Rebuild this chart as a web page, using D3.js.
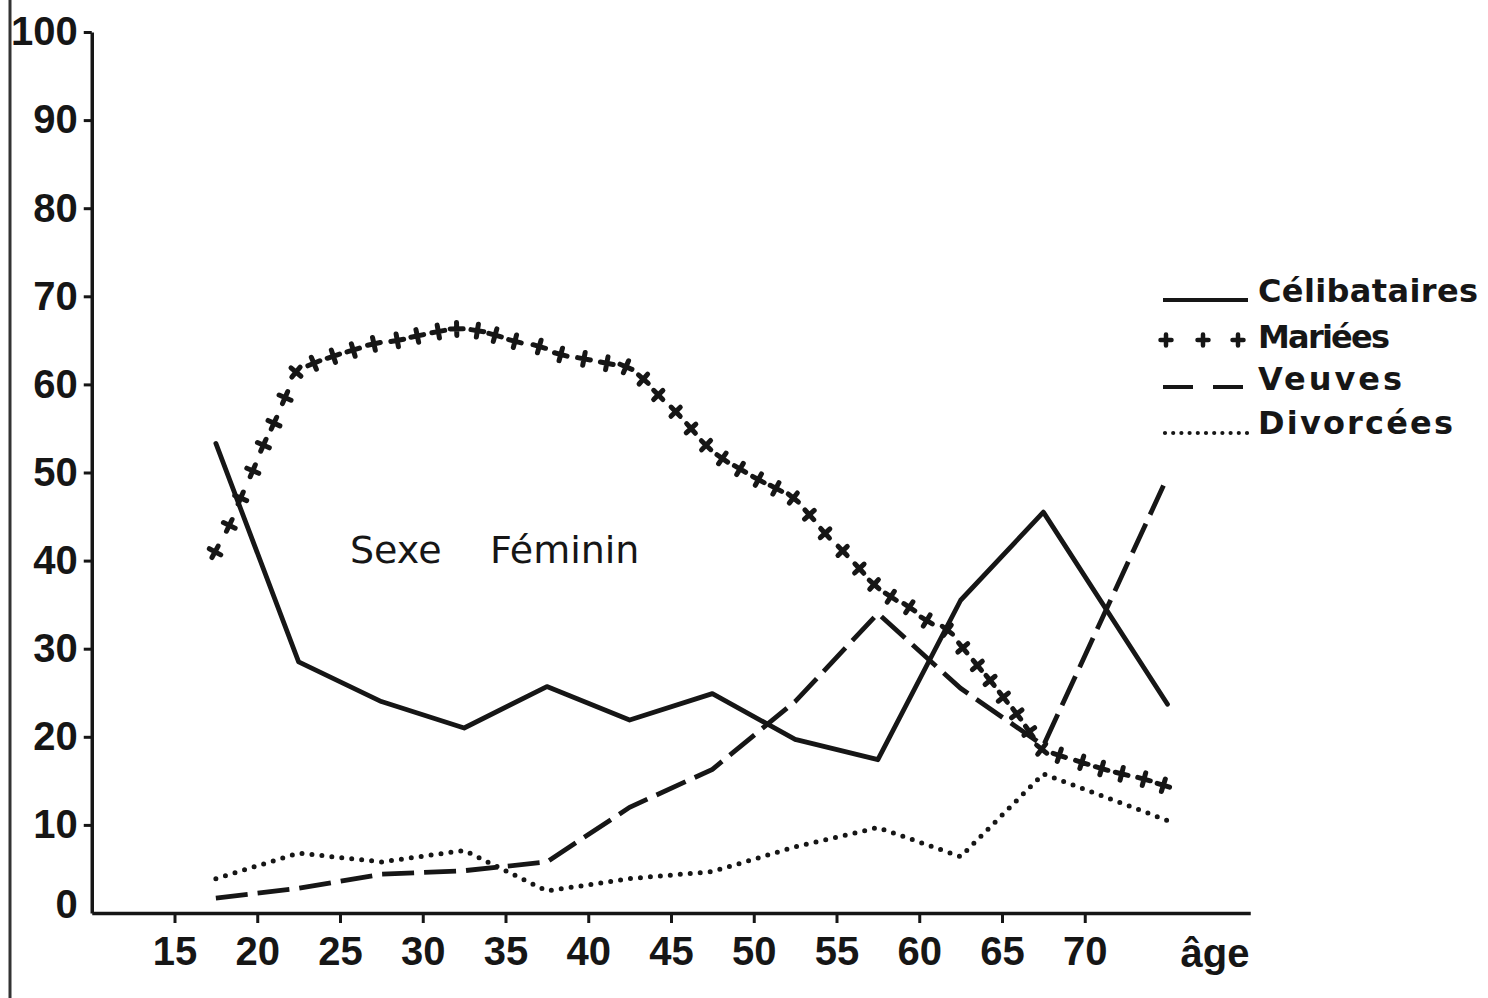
<!DOCTYPE html>
<html>
<head>
<meta charset="utf-8">
<script src="https://cdn.jsdelivr.net/npm/d3@7"></script>
<style>
  html, body { margin: 0; padding: 0; background: #fff; }
  svg { display: block; }
</style>
</head>
<body>
<svg id="chart" width="1488" height="998"></svg>
<script>
// ---------------- DATA ----------------
const ageGroups   = [17.5, 22.5, 27.5, 32.5, 37.5, 42.5, 47.5, 52.5, 57.5, 62.5, 67.5, 75];
const celibataires = [53.3, 28.5, 24.0, 21.0, 25.7, 21.9, 24.9, 19.7, 17.4, 35.5, 45.5, 23.7];
const veuves       = [1.7, 2.8, 4.4, 4.8, 5.8, 12.0, 16.3, 24.0, 34.0, 25.5, 19.0, 49.5];
const divorcees    = [3.9, 6.8, 5.8, 7.1, 2.5, 3.9, 4.7, 7.5, 9.7, 6.4, 15.8, 10.5];

// Mariées: marker positions (age, %)
const marieesAges = [17.45, 18.31, 19.0, 19.73, 20.37, 21.01, 21.68, 22.34, 23.42, 24.6,
  25.8, 27.05, 28.46, 29.67, 30.94, 32.05, 33.3, 34.37, 35.57, 37.04,
  38.34, 39.74, 41.12, 42.28, 43.33, 44.23, 45.28, 46.21, 47.12, 48.1,
  49.17, 50.28, 51.34, 52.39, 53.36, 54.31, 55.37, 56.38, 57.27, 58.28,
  59.4, 60.45, 61.7, 62.63, 63.51, 64.28, 65.08, 65.89, 66.65, 67.4,
  68.46, 69.82, 71.02, 72.23, 73.58, 74.75];
const marieesValues = [41.0, 44.0, 47.1, 50.2, 53.1, 55.6, 58.5, 61.4, 62.4, 63.2,
  63.9, 64.6, 65.0, 65.5, 66.0, 66.3, 66.1, 65.6, 64.9, 64.3,
  63.4, 62.9, 62.4, 62.0, 60.6, 58.8, 56.9, 55.0, 53.1, 51.6,
  50.4, 49.2, 48.2, 47.1, 45.2, 43.1, 41.1, 39.1, 37.3, 35.9,
  34.7, 33.2, 32.1, 30.1, 28.1, 26.4, 24.5, 22.6, 20.6, 18.6,
  17.9, 17.1, 16.4, 15.8, 15.2, 14.5];

const yTicks = [0, 10, 20, 30, 40, 50, 60, 70, 80, 90, 100];
const xTicks = [15, 20, 25, 30, 35, 40, 45, 50, 55, 60, 65, 70];
const xAxisTitle = "âge";
const annotation = ["Sexe", "Féminin"];
const legendLabels = ["Célibataires", "Mariées", "Veuves", "Divorcées"];

// ---------------- CHART ----------------
const ink = "#161616";
const svg = d3.select("#chart");

const x = d3.scaleLinear().domain([10, 80]).range([91.75, 1250.25]);
const y = d3.scaleLinear().domain([0, 100]).range([913, 32]);

const tickFont = "'Liberation Sans', Arial, sans-serif";
const textFont = "'DejaVu Sans', 'Noto Sans', sans-serif";

// scan edge on the left
svg.append("line")
  .attr("x1", 10).attr("x2", 10).attr("y1", 0).attr("y2", 998)
  .attr("stroke", "#333").attr("stroke-width", 3);

// axes
const yAxis = svg.append("g")
  .attr("transform", `translate(${x(10)},0)`)
  .call(d3.axisLeft(y).tickValues(yTicks).tickSize(8).tickPadding(6).tickSizeOuter(0));
const xAxis = svg.append("g")
  .attr("transform", `translate(0,${y(0)})`)
  .call(d3.axisBottom(x).tickValues(xTicks).tickSize(10).tickPadding(14).tickSizeOuter(0));

[yAxis, xAxis].forEach(g => {
  g.select(".domain").attr("stroke", ink).attr("stroke-width", 3.5);
  g.selectAll(".tick line").attr("stroke", ink).attr("stroke-width", 3);
  g.selectAll(".tick text")
    .attr("fill", ink)
    .style("font-family", tickFont)
    .style("font-weight", "bold")
    .style("font-size", "40px");
});
yAxis.selectAll(".tick").filter(d => d === 0).select("line").remove();
yAxis.selectAll(".tick").filter(d => d === 0).select("text").attr("dy", "0.1em");

svg.append("text")
  .attr("x", 1215).attr("y", 967)
  .attr("text-anchor", "middle")
  .attr("fill", ink)
  .style("font-family", tickFont)
  .style("font-weight", "bold")
  .style("font-size", "40px")
  .text(xAxisTitle);

// lines
const line = d3.line().x(d => x(d[0])).y(d => y(d[1]));
const zip = (a, b) => a.map((v, i) => [v, b[i]]);

svg.append("path")
  .attr("d", line(zip(ageGroups, celibataires)))
  .attr("fill", "none").attr("stroke", ink).attr("stroke-width", 4.8)
  .attr("stroke-linejoin", "round").attr("stroke-linecap", "round");

svg.append("path")
  .attr("d", line(zip(ageGroups, veuves)))
  .attr("fill", "none").attr("stroke", ink).attr("stroke-width", 4.8)
  .attr("stroke-dasharray", "32 10");

svg.append("path")
  .attr("d", line(zip(ageGroups, divorcees)))
  .attr("fill", "none").attr("stroke", ink).attr("stroke-width", 5)
  .attr("stroke-linecap", "round")
  .attr("stroke-dasharray", "0 10");

// Mariées markers (plus signs, oriented along the curve)
const mpts = zip(marieesAges, marieesValues).map(d => [x(d[0]), y(d[1])]);
const plusPath = "M-6.5,0H6.5M0,-6.5V6.5";
svg.append("g").selectAll("path")
  .data(mpts)
  .join("path")
  .attr("d", plusPath)
  .attr("transform", (d, i) => {
    const a = mpts[Math.max(0, i - 1)], b = mpts[Math.min(mpts.length - 1, i + 1)];
    const ang = Math.atan2(b[1] - a[1], b[0] - a[0]) * 180 / Math.PI;
    return `translate(${d[0]},${d[1]}) rotate(${ang})`;
  })
  .attr("fill", "none").attr("stroke", ink).attr("stroke-width", 5)
  .attr("stroke-linecap", "round");

// annotation
svg.append("text").attr("x", 350).attr("y", 563)
  .attr("fill", ink).style("font-family", textFont).style("font-size", "38px")
  .text(annotation[0]);
svg.append("text").attr("x", 490).attr("y", 563)
  .attr("fill", ink).style("font-family", textFont).style("font-size", "38px")
  .text(annotation[1]);

// legend
const lg = svg.append("g");
const legendY = [300, 340, 387, 433];
const legendBase = [302, 348, 390, 434];
const legendW = [220, 132, 144, 195];
lg.append("line").attr("x1", 1163).attr("x2", 1248).attr("y1", legendY[0]).attr("y2", legendY[0])
  .attr("stroke", ink).attr("stroke-width", 4);
[1166, 1203, 1238].forEach(px => {
  lg.append("path").attr("d", "M-5.5,0H5.5M0,-5.5V5.5")
    .attr("transform", `translate(${px},${legendY[1]})`)
    .attr("fill", "none").attr("stroke", ink).attr("stroke-width", 4.5).attr("stroke-linecap", "round");
});
lg.append("line").attr("x1", 1163).attr("x2", 1248).attr("y1", legendY[2]).attr("y2", legendY[2])
  .attr("stroke", ink).attr("stroke-width", 4).attr("stroke-dasharray", "30 20");
lg.append("line").attr("x1", 1165).attr("x2", 1248).attr("y1", legendY[3]).attr("y2", legendY[3])
  .attr("stroke", ink).attr("stroke-width", 4.2).attr("stroke-linecap", "round")
  .attr("stroke-dasharray", "0 8.2");
legendLabels.forEach((t, i) => {
  lg.append("text").attr("x", 1258).attr("y", legendBase[i])
    .attr("fill", ink).style("font-family", textFont).style("font-size", "32px")
    .style("font-weight", "bold")
    .attr("textLength", legendW[i]).attr("lengthAdjust", "spacing")
    .text(t);
});
</script>
</body>
</html>
